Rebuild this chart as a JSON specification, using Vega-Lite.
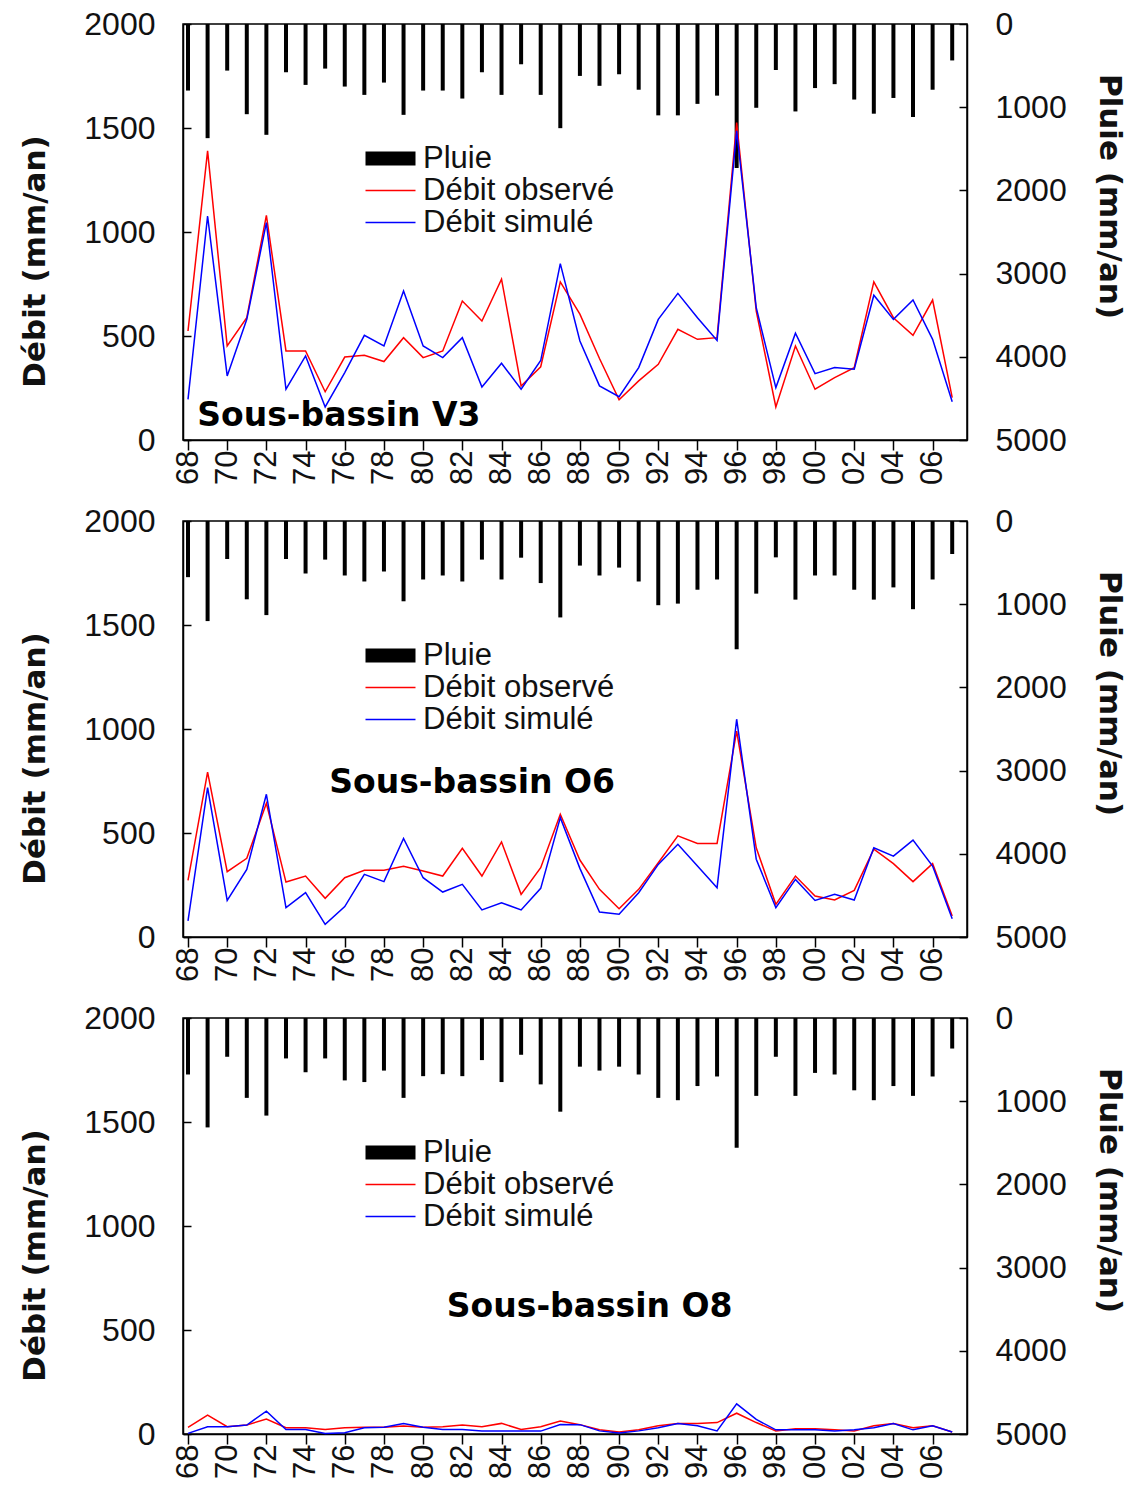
{
  "$schema": "https://vega.github.io/schema/vega-lite/v6.json",
  "padding": {"left": 18, "top": 7, "right": 6, "bottom": 0},
  "background": "white",
  "config": {
    "font": "Liberation Sans",
    "view": {"stroke": "black", "strokeWidth": 1.5},
    "axis": {"labelFont": "Liberation Sans", "labelFontSize": 32, "labelColor": "#111", "titleFont": "DejaVu Sans", "titleColor": "#111", "domainColor": "black", "domainWidth": 1.5, "tickColor": "black", "tickWidth": 1.5, "grid": false, "labelFlush": false, "labelOverlap": false},
    "legend": {"labelFont": "Liberation Sans", "labelColor": "#111"}
  },
  "datasets": {
    "d": [
      {"p":"V3","yr":1968,"pl":800,"obs":524,"sim":195},
      {"p":"V3","yr":1969,"pl":1372,"obs":1390,"sim":1077},
      {"p":"V3","yr":1970,"pl":560,"obs":452,"sim":308},
      {"p":"V3","yr":1971,"pl":1084,"obs":588,"sim":580},
      {"p":"V3","yr":1972,"pl":1332,"obs":1080,"sim":1045},
      {"p":"V3","yr":1973,"pl":580,"obs":428,"sim":244},
      {"p":"V3","yr":1974,"pl":732,"obs":428,"sim":404},
      {"p":"V3","yr":1975,"pl":536,"obs":232,"sim":159},
      {"p":"V3","yr":1976,"pl":752,"obs":399,"sim":324},
      {"p":"V3","yr":1977,"pl":852,"obs":407,"sim":503},
      {"p":"V3","yr":1978,"pl":704,"obs":377,"sim":452},
      {"p":"V3","yr":1979,"pl":1092,"obs":492,"sim":716},
      {"p":"V3","yr":1980,"pl":800,"obs":396,"sim":452},
      {"p":"V3","yr":1981,"pl":800,"obs":428,"sim":396},
      {"p":"V3","yr":1982,"pl":896,"obs":668,"sim":492},
      {"p":"V3","yr":1983,"pl":580,"obs":572,"sim":255},
      {"p":"V3","yr":1984,"pl":852,"obs":773,"sim":369},
      {"p":"V3","yr":1985,"pl":484,"obs":260,"sim":244},
      {"p":"V3","yr":1986,"pl":852,"obs":352,"sim":382},
      {"p":"V3","yr":1987,"pl":1252,"obs":760,"sim":848},
      {"p":"V3","yr":1988,"pl":624,"obs":605,"sim":476},
      {"p":"V3","yr":1989,"pl":743,"obs":392,"sim":260},
      {"p":"V3","yr":1990,"pl":604,"obs":193,"sim":208},
      {"p":"V3","yr":1991,"pl":790,"obs":284,"sim":348},
      {"p":"V3","yr":1992,"pl":1098,"obs":364,"sim":580},
      {"p":"V3","yr":1993,"pl":1098,"obs":532,"sim":705},
      {"p":"V3","yr":1994,"pl":960,"obs":484,"sim":588},
      {"p":"V3","yr":1995,"pl":861,"obs":492,"sim":479},
      {"p":"V3","yr":1996,"pl":1730,"obs":1526,"sim":1486},
      {"p":"V3","yr":1997,"pl":1007,"obs":620,"sim":636},
      {"p":"V3","yr":1998,"pl":553,"obs":159,"sim":252},
      {"p":"V3","yr":1999,"pl":1051,"obs":452,"sim":513},
      {"p":"V3","yr":2000,"pl":770,"obs":244,"sim":319},
      {"p":"V3","yr":2001,"pl":723,"obs":300,"sim":348},
      {"p":"V3","yr":2002,"pl":908,"obs":348,"sim":340},
      {"p":"V3","yr":2003,"pl":1078,"obs":760,"sim":696},
      {"p":"V3","yr":2004,"pl":889,"obs":588,"sim":580},
      {"p":"V3","yr":2005,"pl":1118,"obs":503,"sim":673},
      {"p":"V3","yr":2006,"pl":790,"obs":673,"sim":484},
      {"p":"V3","yr":2007,"pl":438,"obs":204,"sim":184},
      {"p":"O6","yr":1968,"pl":675,"obs":272,"sim":77},
      {"p":"O6","yr":1969,"pl":1203,"obs":793,"sim":718},
      {"p":"O6","yr":1970,"pl":457,"obs":314,"sim":176},
      {"p":"O6","yr":1971,"pl":941,"obs":378,"sim":325},
      {"p":"O6","yr":1972,"pl":1131,"obs":643,"sim":686},
      {"p":"O6","yr":1973,"pl":457,"obs":264,"sim":141},
      {"p":"O6","yr":1974,"pl":631,"obs":293,"sim":213},
      {"p":"O6","yr":1975,"pl":464,"obs":186,"sim":61},
      {"p":"O6","yr":1976,"pl":655,"obs":285,"sim":146},
      {"p":"O6","yr":1977,"pl":727,"obs":321,"sim":301},
      {"p":"O6","yr":1978,"pl":607,"obs":321,"sim":266},
      {"p":"O6","yr":1979,"pl":965,"obs":340,"sim":474},
      {"p":"O6","yr":1980,"pl":703,"obs":317,"sim":285},
      {"p":"O6","yr":1981,"pl":655,"obs":293,"sim":216},
      {"p":"O6","yr":1982,"pl":727,"obs":426,"sim":253},
      {"p":"O6","yr":1983,"pl":464,"obs":293,"sim":130},
      {"p":"O6","yr":1984,"pl":703,"obs":457,"sim":165},
      {"p":"O6","yr":1985,"pl":441,"obs":205,"sim":130},
      {"p":"O6","yr":1986,"pl":746,"obs":333,"sim":234},
      {"p":"O6","yr":1987,"pl":1159,"obs":590,"sim":574},
      {"p":"O6","yr":1988,"pl":536,"obs":370,"sim":330},
      {"p":"O6","yr":1989,"pl":655,"obs":229,"sim":120},
      {"p":"O6","yr":1990,"pl":560,"obs":136,"sim":109},
      {"p":"O6","yr":1991,"pl":727,"obs":229,"sim":213},
      {"p":"O6","yr":1992,"pl":1012,"obs":357,"sim":349},
      {"p":"O6","yr":1993,"pl":993,"obs":486,"sim":446},
      {"p":"O6","yr":1994,"pl":826,"obs":450,"sim":341},
      {"p":"O6","yr":1995,"pl":703,"obs":450,"sim":237},
      {"p":"O6","yr":1996,"pl":1540,"obs":990,"sim":1047},
      {"p":"O6","yr":1997,"pl":873,"obs":429,"sim":374},
      {"p":"O6","yr":1998,"pl":437,"obs":157,"sim":141},
      {"p":"O6","yr":1999,"pl":945,"obs":293,"sim":277},
      {"p":"O6","yr":2000,"pl":655,"obs":197,"sim":176},
      {"p":"O6","yr":2001,"pl":655,"obs":178,"sim":205},
      {"p":"O6","yr":2002,"pl":826,"obs":224,"sim":178},
      {"p":"O6","yr":2003,"pl":945,"obs":422,"sim":429},
      {"p":"O6","yr":2004,"pl":798,"obs":353,"sim":389},
      {"p":"O6","yr":2005,"pl":1060,"obs":266,"sim":466},
      {"p":"O6","yr":2006,"pl":703,"obs":353,"sim":341},
      {"p":"O6","yr":2007,"pl":397,"obs":101,"sim":88},
      {"p":"O8","yr":1968,"pl":679,"obs":32,"sim":3},
      {"p":"O8","yr":1969,"pl":1315,"obs":91,"sim":35},
      {"p":"O8","yr":1970,"pl":466,"obs":35,"sim":35},
      {"p":"O8","yr":1971,"pl":960,"obs":43,"sim":43},
      {"p":"O8","yr":1972,"pl":1173,"obs":72,"sim":110},
      {"p":"O8","yr":1973,"pl":486,"obs":30,"sim":22},
      {"p":"O8","yr":1974,"pl":652,"obs":30,"sim":22},
      {"p":"O8","yr":1975,"pl":486,"obs":22,"sim":3},
      {"p":"O8","yr":1976,"pl":750,"obs":30,"sim":6},
      {"p":"O8","yr":1977,"pl":770,"obs":32,"sim":30},
      {"p":"O8","yr":1978,"pl":632,"obs":32,"sim":32},
      {"p":"O8","yr":1979,"pl":960,"obs":38,"sim":51},
      {"p":"O8","yr":1980,"pl":699,"obs":32,"sim":32},
      {"p":"O8","yr":1981,"pl":675,"obs":35,"sim":22},
      {"p":"O8","yr":1982,"pl":699,"obs":43,"sim":22},
      {"p":"O8","yr":1983,"pl":506,"obs":35,"sim":14},
      {"p":"O8","yr":1984,"pl":770,"obs":51,"sim":14},
      {"p":"O8","yr":1985,"pl":442,"obs":22,"sim":14},
      {"p":"O8","yr":1986,"pl":798,"obs":35,"sim":14},
      {"p":"O8","yr":1987,"pl":1126,"obs":62,"sim":46},
      {"p":"O8","yr":1988,"pl":585,"obs":45,"sim":45},
      {"p":"O8","yr":1989,"pl":632,"obs":20,"sim":15},
      {"p":"O8","yr":1990,"pl":585,"obs":10,"sim":5},
      {"p":"O8","yr":1991,"pl":679,"obs":20,"sim":15},
      {"p":"O8","yr":1992,"pl":960,"obs":40,"sim":30},
      {"p":"O8","yr":1993,"pl":988,"obs":50,"sim":50},
      {"p":"O8","yr":1994,"pl":818,"obs":50,"sim":40},
      {"p":"O8","yr":1995,"pl":703,"obs":55,"sim":15},
      {"p":"O8","yr":1996,"pl":1560,"obs":100,"sim":145},
      {"p":"O8","yr":1997,"pl":936,"obs":55,"sim":70},
      {"p":"O8","yr":1998,"pl":466,"obs":15,"sim":20},
      {"p":"O8","yr":1999,"pl":936,"obs":25,"sim":20},
      {"p":"O8","yr":2000,"pl":660,"obs":25,"sim":20},
      {"p":"O8","yr":2001,"pl":679,"obs":20,"sim":15},
      {"p":"O8","yr":2002,"pl":869,"obs":15,"sim":20},
      {"p":"O8","yr":2003,"pl":988,"obs":40,"sim":30},
      {"p":"O8","yr":2004,"pl":818,"obs":50,"sim":50},
      {"p":"O8","yr":2005,"pl":936,"obs":30,"sim":20},
      {"p":"O8","yr":2006,"pl":703,"obs":40,"sim":40},
      {"p":"O8","yr":2007,"pl":367,"obs":10,"sim":10}
    ]
  },
  "vconcat": [
    {
      "width": 784, "height": 416,
      "data": {"name": "d"},
      "layer": [
        {
          "transform": [{"filter": "datum.p == 'V3'"}],
          "mark": {"type": "bar", "size": 4},
          "encoding": {
            "x": {"field": "yr", "type": "quantitative", "scale": {"domain": [1968, 2007.5], "nice": false, "zero": false}, "axis": {"values": [1968,1970,1972,1974,1976,1978,1980,1982,1984,1986,1988,1990,1992,1994,1996,1998,2000,2002,2004,2006], "labelExpr": "format(datum.value % 100, '02d')", "labelAngle": -90, "title": null, "tickSize": 10, "labelPadding": 0, "labelFontSize": 31}},
            "y": {"field": "pl", "type": "quantitative", "scale": {"domain": [0, 5000], "reverse": true, "nice": false}, "axis": {"orient": "right", "format": "d", "values": [0,1000,2000,3000,4000,5000], "title": "Pluie (mm/an)", "titleFontSize": 31, "titleFontWeight": "bold", "titleAngle": 90, "titleX": 141, "titleY": 172, "titleAlign": "center", "titleBaseline": "middle", "tickSize": -8, "labelPadding": 36}},
            "color": {"datum": "Pluie", "type": "nominal", "scale": {"domain": ["Pluie", "obs", "sim"], "range": ["black", "#ff0000", "#0000ff"]}, "legend": {"orient": "none", "legendX": 192, "legendY": 119, "title": null, "symbolType": "stroke", "symbolSize": 2500, "labelFontSize": 31, "labelOffset": 17, "labelLimit": 400, "rowPadding": 0, "labelExpr": "datum.label == 'obs' ? 'Débit observé' : datum.label == 'sim' ? 'Débit simulé' : datum.label", "encode": {"symbols": {"update": {"strokeWidth": {"signal": "datum.value == 'Pluie' ? 14 : 1.5"}, "stroke": {"signal": "datum.value == 'Pluie' ? 'black' : datum.value == 'obs' ? '#ff0000' : '#0000ff'"}, "strokeJoin": {"value": "bevel"}, "strokeCap": {"value": "butt"}, "fill": {"value": "transparent"}, "opacity": {"value": 1}}}}}}
          }
        },
        {
          "layer": [
            {
              "transform": [{"filter": "datum.p == 'V3'"}, {"fold": ["obs", "sim"], "as": ["s", "q"]}],
              "mark": {"type": "line", "strokeWidth": 1.5},
              "encoding": {
                "x": {"field": "yr", "type": "quantitative", "scale": {"domain": [1968, 2007.5], "nice": false, "zero": false}, "axis": {"values": [1968,1970,1972,1974,1976,1978,1980,1982,1984,1986,1988,1990,1992,1994,1996,1998,2000,2002,2004,2006], "labelExpr": "format(datum.value % 100, '02d')", "labelAngle": -90, "title": null, "tickSize": 10, "labelPadding": 0, "labelFontSize": 31}},
                "y": {"field": "q", "type": "quantitative", "scale": {"domain": [0, 2000], "nice": false}, "axis": {"orient": "left", "format": "d", "values": [0,500,1000,1500,2000], "title": "Débit (mm/an)", "titleFontSize": 31, "titleFontWeight": "bold", "titleAngle": -90, "titleX": -148, "titleY": 237, "titleAlign": "center", "titleBaseline": "middle", "tickSize": -8, "labelPadding": 36}},
                "color": {"field": "s", "type": "nominal", "scale": {"domain": ["Pluie", "obs", "sim"], "range": ["black", "#ff0000", "#0000ff"]}, "legend": {"orient": "none", "legendX": 192, "legendY": 119, "title": null, "symbolType": "stroke", "symbolSize": 2500, "labelFontSize": 31, "labelOffset": 17, "labelLimit": 400, "rowPadding": 0, "labelExpr": "datum.label == 'obs' ? 'Débit observé' : datum.label == 'sim' ? 'Débit simulé' : datum.label", "encode": {"symbols": {"update": {"strokeWidth": {"signal": "datum.value == 'Pluie' ? 14 : 1.5"}, "stroke": {"signal": "datum.value == 'Pluie' ? 'black' : datum.value == 'obs' ? '#ff0000' : '#0000ff'"}, "strokeJoin": {"value": "bevel"}, "strokeCap": {"value": "butt"}, "fill": {"value": "transparent"}, "opacity": {"value": 1}}}}}}
              }
            },
            {
              "data": {"values": [{"t": "Sous-bassin V3"}]},
              "mark": {"type": "text", "font": "DejaVu Sans", "fontSize": 33, "fontWeight": "bold", "align": "center", "baseline": "middle", "color": "black"},
              "encoding": {
                "x": {"datum": 1975.7, "type": "quantitative"},
                "y": {"datum": 115, "type": "quantitative"},
                "text": {"field": "t"}
              }
            }
          ]
        }
      ],
      "resolve": {"scale": {"y": "independent"}}
    },
    {
      "width": 784, "height": 416,
      "data": {"name": "d"},
      "layer": [
        {
          "transform": [{"filter": "datum.p == 'O6'"}],
          "mark": {"type": "bar", "size": 4},
          "encoding": {
            "x": {"field": "yr", "type": "quantitative", "scale": {"domain": [1968, 2007.5], "nice": false, "zero": false}, "axis": {"values": [1968,1970,1972,1974,1976,1978,1980,1982,1984,1986,1988,1990,1992,1994,1996,1998,2000,2002,2004,2006], "labelExpr": "format(datum.value % 100, '02d')", "labelAngle": -90, "title": null, "tickSize": 10, "labelPadding": 0, "labelFontSize": 31}},
            "y": {"field": "pl", "type": "quantitative", "scale": {"domain": [0, 5000], "reverse": true, "nice": false}, "axis": {"orient": "right", "format": "d", "values": [0,1000,2000,3000,4000,5000], "title": "Pluie (mm/an)", "titleFontSize": 31, "titleFontWeight": "bold", "titleAngle": 90, "titleX": 141, "titleY": 172, "titleAlign": "center", "titleBaseline": "middle", "tickSize": -8, "labelPadding": 36}},
            "color": {"datum": "Pluie", "type": "nominal", "scale": {"domain": ["Pluie", "obs", "sim"], "range": ["black", "#ff0000", "#0000ff"]}, "legend": {"orient": "none", "legendX": 192, "legendY": 119, "title": null, "symbolType": "stroke", "symbolSize": 2500, "labelFontSize": 31, "labelOffset": 17, "labelLimit": 400, "rowPadding": 0, "labelExpr": "datum.label == 'obs' ? 'Débit observé' : datum.label == 'sim' ? 'Débit simulé' : datum.label", "encode": {"symbols": {"update": {"strokeWidth": {"signal": "datum.value == 'Pluie' ? 14 : 1.5"}, "stroke": {"signal": "datum.value == 'Pluie' ? 'black' : datum.value == 'obs' ? '#ff0000' : '#0000ff'"}, "strokeJoin": {"value": "bevel"}, "strokeCap": {"value": "butt"}, "fill": {"value": "transparent"}, "opacity": {"value": 1}}}}}}
          }
        },
        {
          "layer": [
            {
              "transform": [{"filter": "datum.p == 'O6'"}, {"fold": ["obs", "sim"], "as": ["s", "q"]}],
              "mark": {"type": "line", "strokeWidth": 1.5},
              "encoding": {
                "x": {"field": "yr", "type": "quantitative", "scale": {"domain": [1968, 2007.5], "nice": false, "zero": false}, "axis": {"values": [1968,1970,1972,1974,1976,1978,1980,1982,1984,1986,1988,1990,1992,1994,1996,1998,2000,2002,2004,2006], "labelExpr": "format(datum.value % 100, '02d')", "labelAngle": -90, "title": null, "tickSize": 10, "labelPadding": 0, "labelFontSize": 31}},
                "y": {"field": "q", "type": "quantitative", "scale": {"domain": [0, 2000], "nice": false}, "axis": {"orient": "left", "format": "d", "values": [0,500,1000,1500,2000], "title": "Débit (mm/an)", "titleFontSize": 31, "titleFontWeight": "bold", "titleAngle": -90, "titleX": -148, "titleY": 237, "titleAlign": "center", "titleBaseline": "middle", "tickSize": -8, "labelPadding": 36}},
                "color": {"field": "s", "type": "nominal", "scale": {"domain": ["Pluie", "obs", "sim"], "range": ["black", "#ff0000", "#0000ff"]}, "legend": {"orient": "none", "legendX": 192, "legendY": 119, "title": null, "symbolType": "stroke", "symbolSize": 2500, "labelFontSize": 31, "labelOffset": 17, "labelLimit": 400, "rowPadding": 0, "labelExpr": "datum.label == 'obs' ? 'Débit observé' : datum.label == 'sim' ? 'Débit simulé' : datum.label", "encode": {"symbols": {"update": {"strokeWidth": {"signal": "datum.value == 'Pluie' ? 14 : 1.5"}, "stroke": {"signal": "datum.value == 'Pluie' ? 'black' : datum.value == 'obs' ? '#ff0000' : '#0000ff'"}, "strokeJoin": {"value": "bevel"}, "strokeCap": {"value": "butt"}, "fill": {"value": "transparent"}, "opacity": {"value": 1}}}}}}
              }
            },
            {
              "data": {"values": [{"t": "Sous-bassin O6"}]},
              "mark": {"type": "text", "font": "DejaVu Sans", "fontSize": 33, "fontWeight": "bold", "align": "center", "baseline": "middle", "color": "black"},
              "encoding": {
                "x": {"datum": 1982.5, "type": "quantitative"},
                "y": {"datum": 740, "type": "quantitative"},
                "text": {"field": "t"}
              }
            }
          ]
        }
      ],
      "resolve": {"scale": {"y": "independent"}}
    },
    {
      "width": 784, "height": 416,
      "data": {"name": "d"},
      "layer": [
        {
          "transform": [{"filter": "datum.p == 'O8'"}],
          "mark": {"type": "bar", "size": 4},
          "encoding": {
            "x": {"field": "yr", "type": "quantitative", "scale": {"domain": [1968, 2007.5], "nice": false, "zero": false}, "axis": {"values": [1968,1970,1972,1974,1976,1978,1980,1982,1984,1986,1988,1990,1992,1994,1996,1998,2000,2002,2004,2006], "labelExpr": "format(datum.value % 100, '02d')", "labelAngle": -90, "title": null, "tickSize": 10, "labelPadding": 0, "labelFontSize": 31}},
            "y": {"field": "pl", "type": "quantitative", "scale": {"domain": [0, 5000], "reverse": true, "nice": false}, "axis": {"orient": "right", "format": "d", "values": [0,1000,2000,3000,4000,5000], "title": "Pluie (mm/an)", "titleFontSize": 31, "titleFontWeight": "bold", "titleAngle": 90, "titleX": 141, "titleY": 172, "titleAlign": "center", "titleBaseline": "middle", "tickSize": -8, "labelPadding": 36}},
            "color": {"datum": "Pluie", "type": "nominal", "scale": {"domain": ["Pluie", "obs", "sim"], "range": ["black", "#ff0000", "#0000ff"]}, "legend": {"orient": "none", "legendX": 192, "legendY": 119, "title": null, "symbolType": "stroke", "symbolSize": 2500, "labelFontSize": 31, "labelOffset": 17, "labelLimit": 400, "rowPadding": 0, "labelExpr": "datum.label == 'obs' ? 'Débit observé' : datum.label == 'sim' ? 'Débit simulé' : datum.label", "encode": {"symbols": {"update": {"strokeWidth": {"signal": "datum.value == 'Pluie' ? 14 : 1.5"}, "stroke": {"signal": "datum.value == 'Pluie' ? 'black' : datum.value == 'obs' ? '#ff0000' : '#0000ff'"}, "strokeJoin": {"value": "bevel"}, "strokeCap": {"value": "butt"}, "fill": {"value": "transparent"}, "opacity": {"value": 1}}}}}}
          }
        },
        {
          "layer": [
            {
              "transform": [{"filter": "datum.p == 'O8'"}, {"fold": ["obs", "sim"], "as": ["s", "q"]}],
              "mark": {"type": "line", "strokeWidth": 1.5},
              "encoding": {
                "x": {"field": "yr", "type": "quantitative", "scale": {"domain": [1968, 2007.5], "nice": false, "zero": false}, "axis": {"values": [1968,1970,1972,1974,1976,1978,1980,1982,1984,1986,1988,1990,1992,1994,1996,1998,2000,2002,2004,2006], "labelExpr": "format(datum.value % 100, '02d')", "labelAngle": -90, "title": null, "tickSize": 10, "labelPadding": 0, "labelFontSize": 31}},
                "y": {"field": "q", "type": "quantitative", "scale": {"domain": [0, 2000], "nice": false}, "axis": {"orient": "left", "format": "d", "values": [0,500,1000,1500,2000], "title": "Débit (mm/an)", "titleFontSize": 31, "titleFontWeight": "bold", "titleAngle": -90, "titleX": -148, "titleY": 237, "titleAlign": "center", "titleBaseline": "middle", "tickSize": -8, "labelPadding": 36}},
                "color": {"field": "s", "type": "nominal", "scale": {"domain": ["Pluie", "obs", "sim"], "range": ["black", "#ff0000", "#0000ff"]}, "legend": {"orient": "none", "legendX": 192, "legendY": 119, "title": null, "symbolType": "stroke", "symbolSize": 2500, "labelFontSize": 31, "labelOffset": 17, "labelLimit": 400, "rowPadding": 0, "labelExpr": "datum.label == 'obs' ? 'Débit observé' : datum.label == 'sim' ? 'Débit simulé' : datum.label", "encode": {"symbols": {"update": {"strokeWidth": {"signal": "datum.value == 'Pluie' ? 14 : 1.5"}, "stroke": {"signal": "datum.value == 'Pluie' ? 'black' : datum.value == 'obs' ? '#ff0000' : '#0000ff'"}, "strokeJoin": {"value": "bevel"}, "strokeCap": {"value": "butt"}, "fill": {"value": "transparent"}, "opacity": {"value": 1}}}}}}
              }
            },
            {
              "data": {"values": [{"t": "Sous-bassin O8"}]},
              "mark": {"type": "text", "font": "DejaVu Sans", "fontSize": 33, "fontWeight": "bold", "align": "center", "baseline": "middle", "color": "black"},
              "encoding": {
                "x": {"datum": 1988.5, "type": "quantitative"},
                "y": {"datum": 611, "type": "quantitative"},
                "text": {"field": "t"}
              }
            }
          ]
        }
      ],
      "resolve": {"scale": {"y": "independent"}}
    }
  ],
  "spacing": 81,
  "bounds": "flush",
  "resolve": {"scale": {"color": "independent"}, "legend": {"color": "independent"}}
}
